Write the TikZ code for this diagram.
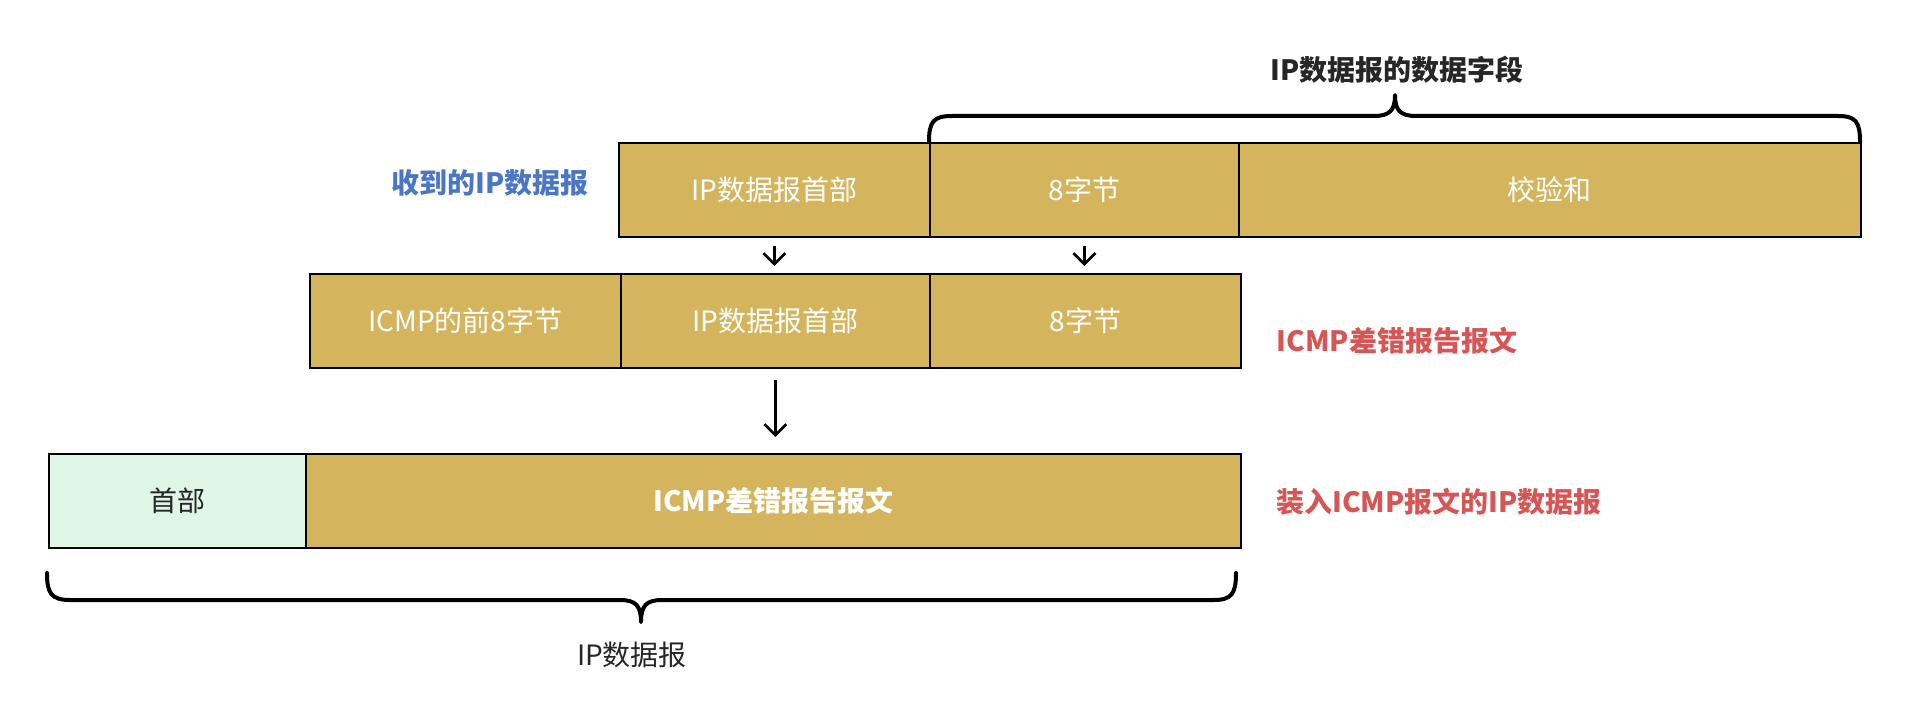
\documentclass[tikz,border=0pt]{standalone}
\usepackage{fontspec}
\setmainfont{Noto Sans CJK SC}
\usetikzlibrary{arrows.meta}
\definecolor{boxfill}{HTML}{D4B45C}
\definecolor{hdrfill}{HTML}{DFF5E6}
\definecolor{lblblue}{HTML}{4A76C6}
\definecolor{lblred}{HTML}{D65555}
\definecolor{txtdark}{HTML}{262626}
\tikzset{
  x=1pt, y=-1pt,
  field/.style={draw=black, line width=1.8pt, fill=boxfill, text=white, anchor=north west,
    inner sep=0pt, font=\fontsize{28}{32}\selectfont},
  hdr/.style={field, fill=hdrfill, text=txtdark},
  lbl/.style={font=\fontsize{28}{32}\selectfont\bfseries, inner sep=0pt},
  arr/.style={draw=black, line width=2.6pt, -{Straight Barb[length=11pt,width=22pt,line width=2.6pt]}},
  bracepath/.style={draw=black, line width=4pt, line cap=round, line join=round}
}
\begin{document}
\begin{tikzpicture}
\useasboundingbox (0,0) rectangle (1910,722);
% top row
\node[field, minimum width=311pt, minimum height=94pt] (a1) at (618,142) {IP数据报首部};
\node[field, minimum width=309pt, minimum height=94pt] (a2) at (929,142) {8字节};
\node[field, minimum width=622pt, minimum height=94pt] (a3) at (1238,142) {校验和};
% middle row
\node[field, minimum width=311pt, minimum height=94pt] (b1) at (309,273) {ICMP的前8字节};
\node[field, minimum width=309pt, minimum height=94pt] (b2) at (620,273) {IP数据报首部};
\node[field, minimum width=311pt, minimum height=94pt] (b3) at (929,273) {8字节};
% bottom row
\node[hdr, minimum width=257pt, minimum height=94pt] (c1) at (48,453) {首部};
\node[field, minimum width=935pt, minimum height=94pt, font=\fontsize{28}{32}\selectfont\bfseries] (c2) at (305,453) {ICMP差错报告报文};
% labels
\node[lbl, text=lblblue] (l1) at (490,183) {收到的IP数据报};
\node[lbl, text=lblred] (l2) at (1397,341) {ICMP差错报告报文};
\node[lbl, text=lblred] (l3) at (1439,502) {装入ICMP报文的IP数据报};
\node[lbl, text=txtdark] (l4) at (1397,70) {IP数据报的数据字段};
\node[font=\fontsize{28}{32}\selectfont, text=txtdark, inner sep=0pt] (l5) at (632,655) {IP数据报};
% arrows
\draw[arr, shorten <=8pt, shorten >=7pt] (a1.south) -- (a1.south |- b2.north);
\draw[arr, shorten <=8pt, shorten >=7pt] (a2.south) -- (a2.south |- b3.north);
\draw[arr, shorten <=11pt, shorten >=16pt] (b2.south) -- (b2.south |- c2.north);
% top brace
\path[bracepath] (929,142) .. controls (929,122) and (933,116) .. (952,116) -- (1374,116)
  .. controls (1390,116) and (1395,110) .. (1395,95)
  .. controls (1395,110) and (1400,116) .. (1416,116) -- (1838,116)
  .. controls (1856,116) and (1860,122) .. (1860,142);
% bottom brace
\path[bracepath] (47,573) .. controls (47,593) and (51,600) .. (70,600) -- (620,600)
  .. controls (636,600) and (641,606) .. (641,622)
  .. controls (641,606) and (646,600) .. (662,600) -- (1214,600)
  .. controls (1232,600) and (1236,593) .. (1236,573);
\end{tikzpicture}
\end{document}
